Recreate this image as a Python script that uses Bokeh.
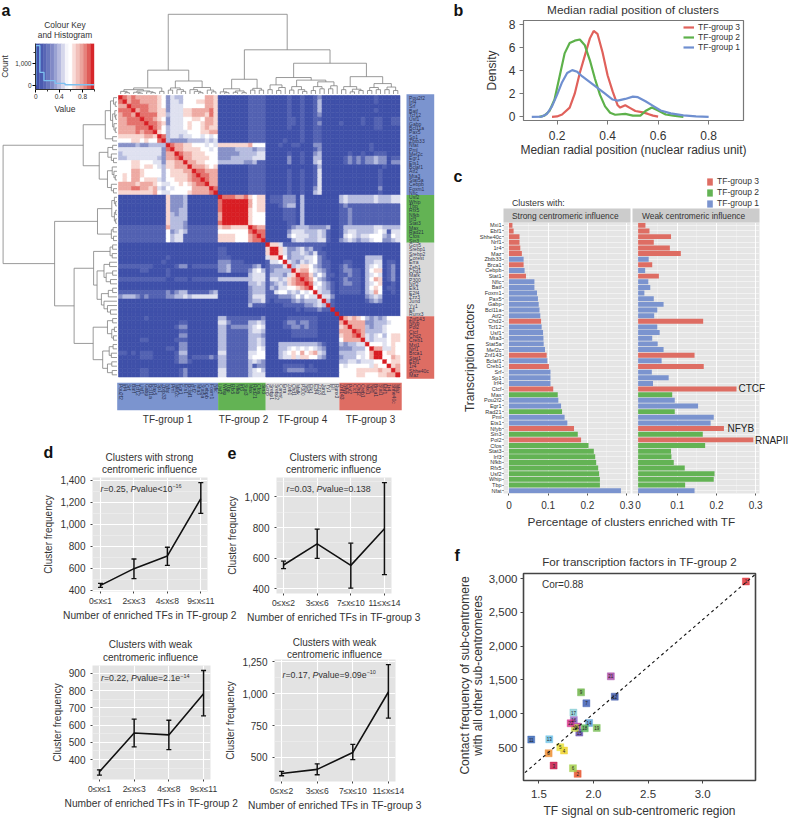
from bokeh.plotting import figure
from bokeh.models import (Range1d, FactorRange, FixedTicker, NumeralTickFormatter, Whisker, TeeHead,
                          ColumnDataSource, Column, Legend, LegendItem, Slope)
from bokeh.core.properties import value
from bokeh.embed import file_html
from bokeh.resources import INLINE
import math

FONT = "Liberation Sans"
BLUE, GREEN, GREY, RED = "#7b94cf", "#63b354", "#d9d9d9", "#de6d63"

# ---------- panel a ----------
g1 = "Pou2f2 Irf4 Srf Batf Tcf12 Usf1 Gabp Bcl11a Pax5 Sp1 Zbtb33 Nfat Pml Mef2c Egr1 Ets1 Bclaf1 Atf2 Mta3 Stat5a Cebpb Foxm1 Nfic".split()
g2 = "Usf2 Whip Tbp Rfx5 Nfkb Irf3 Stat3 Max Rad21 Cfos Sin3".split()
g4 = "Gcn5 Srebp1 Srebp2 Corest Erra Zeb1 Chd1 Mafk P300 Nrf2 Elk1 E2f4 Zzz3 Jund Yy1 Ell Runx3".split()
g3 = "Znf143 Nfyb Pol2 Ctcf Chd2 Creb1 Mxi1 Nrf1 Brca1 Stat1 Ebf1 1r4 Shhe40c Maz".split()
tf_names = g1 + g2 + g4 + g3
levels = ["#3f50a9", "#5362b2", "#8791c8", "#b6bcdf", "#dfe1f0", "#ffffff", "#f8d6d1", "#eeaaa3", "#e4716c", "#d81e24"]

# upper triangle, from the diagonal to the right, one row per TF; segments: group 1, 2, 4, 3
upper = [
 "98787777765243355555776 00000001111 00000100100120000 00000000100000",
 "9788777765244355566776 00000001111 00000100100130000 00000000100000",
 "988887765244455555776 00000001111 00000100100130000 00000000000000",
 "97887766244466777786 00000001111 00000100100130000 00000000100000",
 "9888866344466777686 00000001111 00000100100120000 00000000000000",
 "988765244455665776 00000001111 00000110100110000 00000100110011",
 "98876244456556776 00000001111 00000110100120000 10000100110011",
 "9875344456556766 00000001111 00000100100110000 00000000110000",
 "965344445556677 00000001111 00000000100110000 00000000000000",
 "98344344554545 00000001111 00000000100110000 00000000000000",
 "9322223333434 00000001111 00001000100110000 00000000000000",
 "987766555454 66666667555 00010011000220000 00000001000000",
 "97766665545 22223333233 00000000000120000 00000001000000",
 "9877666555 22222333344 00000100100230000 00100100111000",
 "977666655 22233333444 00000200100330000 01212122322011",
 "97766555 33333322311 00000200100340000 01212122322022",
 "9777656 00000001111 00000000000130000 00000000001000",
 "988777 00000001111 00000100100140000 00000000010000",
 "98877 00000001111 00000100100140000 00000000010000",
 "9877 00000001111 00000100100140000 00000000010000",
 "977 00000001111 00000100100140000 00000000010000",
 "98 00000001111 00000100100240000 00000000020000",
 "9 00000001111 00000100100340000 00000000010000",
 "98887786566 01112220300000000 34333333433344",
 "9999997566 01112220300000000 34333333433344",
 "999997566 00012330300000000 12111111111111",
 "99996566 00001110300000000 11211111111111",
 "9996555 00001110300000000 11211111111111",
 "996555 00001110300000000 11211111111111",
 "96555 00000110300000000 11211111111111",
 "9877 00000123332222300 13333333443333",
 "988 00000244433343100 13443333454144",
 "98 00000354443343100 14543445553254",
 "9 00000034433344100 23432334552234",
 "96641111111111000 00000000000000",
 "9964223423110000 00000000000000",
 "964233432411000 00000000000000",
 "95233344521000 00000033330000",
 "9432434521100 01100033440110",
 "934665321100 12100034540120",
 "96775432100 12211035660120",
 "9886353110 11211034540120",
 "987532100 12111035760120",
 "98453210 12211034560010",
 "9543210 11111035650110",
 "943310 11111034750010",
 "94420 00000023430000",
 "9310 00000012320000",
 "910 00000000000000",
 "90 00000000000000",
 "9 00000000000000",
 "97676532323555", "9777722333455", "977732334555", "98733334555", "9743453566",
 "943444566", "95554565", "9774465", "995665", "95576", "9566", "967", "97", "9",
]
row_tree = (26.3,
    (7.8, (2.7, (1.5, (0.8, 0, (0.4, 1, 2)), (1.0, (0.5, 3, (0.3, 4, 5)), (0.7, 6, (0.4, 7, 8)))), (1.0, 9, 10)),
          (4.1, (2.1, (1.0, 11, 12), (1.3, 13, (0.8, 14, 15))), (2.2, (1.1, 16, (0.7, 17, (0.4, 18, 19))), (1.3, 20, (0.8, 21, 22))))),
    (14.4, (4.5, (1.2, (0.6, 23, (0.3, 24, 25)), (0.6, (0.3, 26, 27), (0.3, 28, 29))), (1.3, (0.9, 30, 31), (0.8, 32, 33))),
           (9.9, (5.4, (1.6, (1.0, 34, 35), (1.1, 36, 37)),
                       (4.6, (3.0, (1.7, 38, 39), (2.5, (1.0, 40, 41), (1.5, 42, 43))),
                             (3.6, (2.0, (1.0, 44, 45), 46), (3.0, 47, (2.2, 48, (1.5, 49, 50)))))),
                 (5.5, (2.2, (1.0, 51, 52), (1.2, (0.6, 53, 54), (0.8, 55, 56))),
                       (3.3, (1.8, (0.9, 57, 58), (1.3, 59, 60)), (2.2, (1.2, 61, 62), (1.1, 63, 64)))))))
col_tree = (18.4,
    (5.5, (1.4, (1.0, (0.6, 0, (0.3, 1, 2)), (0.7, (0.4, 3, (0.2, 4, 5)), (0.5, 6, (0.3, 7, 8)))), (0.6, 9, 10)),
          (3.0, (1.4, (0.9, 11, 12), (1.0, 13, (0.6, 14, 15))), (1.5, (1.0, 16, (0.6, 17, (0.3, 18, 19))), (0.9, 20, (0.5, 21, 22))))),
    (10.2, (3.4, (1.2, (0.5, 23, (0.3, 24, 25)), (0.7, (0.4, 26, 27), (0.3, 28, 29))), (1.3, (0.9, 30, 31), (0.9, 32, 33))),
           (7.1, (3.8, (2.1, (1.0, 34, 35), (1.5, (0.8, 36, 37), 38)),
                       (3.2, (1.7, (0.9, 39, 40), (1.0, 41, (0.6, 42, 43))),
                             (2.8, (1.7, (0.8, 44, 45), (1.2, 46, 47)), (1.9, (1.2, 48, 49), 50)))),
                 (4.0, (1.7, (1.0, 51, 52), (1.1, (0.5, 53, 54), (0.8, 55, 56))),
                       (2.4, (1.5, (0.8, 57, 58), (1.0, 59, 60)), (1.6, (1.0, 61, 62), (0.8, 63, 64)))))))

key_colors = ["#3f50a9", "#4a5bb0", "#5866b5", "#6a78bd", "#8089c6", "#9aa2d2", "#b6bbdf", "#d5d7eb",
              "#f5f5fa", "#ffffff", "#f9dcd8", "#f2c0ba", "#eca59e", "#e6827c", "#df5c58", "#d7262a"]
key_hist_x = [0.0, 0.0, 0.07, 0.07, 0.14, 0.14, 0.33, 0.33, 0.5, 0.5, 1.0]
key_hist_y = [0, 1800, 1800, 590, 590, 210, 210, 90, 90, 25, 25]

# ---------- panel b ----------
b_red_x = [.18, .2, .22, .25, .27, .29, .31, .33, .345, .36, .38, .40, .42, .44, .45, .47, .49, .51, .54, .56, .58, .6]
b_red_y = [0, .03, .2, .8, 2, 3.8, 5.3, 6.8, 7.45, 7.2, 5.6, 3.6, 2.2, 1.0, .8, 1.0, .75, .5, .38, .25, .1, .02]
b_green_x = [.13, .15, .17, .19, .21, .23, .25, .27, .29, .31, .33, .35, .37, .39, .41, .43, .47, .50, .53, .55, .575, .6, .63, .66, .7]
b_green_y = [0, .1, .5, 1.5, 3.5, 5.5, 6.4, 6.6, 6.7, 6.2, 4.9, 3.3, 1.9, .9, .35, .18, .25, .1, .1, .5, .8, .55, .2, .1, 0]
b_blue_x = [.1, .14, .16, .18, .2, .22, .24, .26, .28, .3, .33, .36, .39, .42, .44, .47, .5, .52, .55, .58, .61, .65, .7, .75, .8]
b_blue_y = [0, .02, .25, .9, 1.9, 3, 3.8, 4.05, 3.9, 3.5, 3, 2.5, 2, 1.5, 1.4, 1.55, 1.75, 1.7, 1.35, .95, .55, .3, .13, .03, 0]

# ---------- panel c ----------
c_names = ["Mxi1", "Ebf1", "Shhe40c", "Nrf1", "1r4", "Maz", "Zbtb33", "Brca1", "Cebpb", "Stat1", "Nfic", "Batf", "Foxm1", "Pax5",
           "Gabp", "Bcl11a", "Atf2", "Chd2", "Tcf12", "Usf1", "Mta3", "Stat5a", "Mef2c", "Znf143", "Bclaf1", "Creb1", "Srf", "Sp1",
           "Irf4", "Ctcf", "Max", "Pou2f2", "Egr1", "Rad21", "Pml", "Ets1", "Nfyb", "Sin3", "Pol2", "Cfos", "Stat3", "Irf3", "Nfkb",
           "Rfx5", "Usf2", "Whip", "Tbp", "Nfat"]
c_strong = [.009, .012, .027, .027, .029, .033, .0375, .0375, .04, .0435, .065, .065, .0716, .074, .076, .078, .08, .082, .0835, .087,
            .088, .0887, .092, .0963, .098, .102, .106, .106, .106, .113, .1245, .126, .133, .1355, .142, .149, .166, .1756, .184, .203,
            .2165, .22, .2225, .2276, .23, .232, .232, .2856]
c_weak = [.0187, .029, .084, .04, .081, .109, .027, .036, .018, .053, .026, .031, .016, .04, .065, .049, .041, .166, .049, .055, .036,
          .05, .065, .144, .06, .1675, .035, .078, .038, .251, .087, .0935, .153, .0935, .193, .185, .219, .165, .294, .171, .084, .085,
          .091, .119, .195, .193, .12, .144]
c_group3 = {"Mxi1", "Ebf1", "Shhe40c", "Nrf1", "1r4", "Maz", "Brca1", "Stat1", "Chd2", "Znf143", "Creb1", "Ctcf", "Nfyb", "Pol2"}
c_group2 = {"Max", "Rad21", "Sin3", "Cfos", "Stat3", "Irf3", "Nfkb", "Rfx5", "Usf2", "Whip", "Tbp"}

# ---------- panels d, e ----------
d1_mean, d1_low, d1_high = [443, 595, 711, 1232], [424, 504, 625, 1098], [461, 683, 790, 1378]
d2_mean, d2_low, d2_high = [329, 554, 543, 782], [309, 473, 458, 653], [340, 635, 628, 917]
e1_mean, e1_low, e1_high = [555, 693, 553, 792], [531, 599, 404, 492], [580, 790, 698, 1094]
e2_mean, e2_low, e2_high = [374, 406, 539, 1014], [356, 364, 482, 809], [390, 450, 602, 1228]
d_cats = ["0≤x≤1", "2≤x≤3", "4≤x≤8", "9≤x≤11"]
e_cats = ["0≤x≤2", "3≤x≤6", "7≤x≤10", "11≤x≤14"]

# ---------- panel f ----------
f_ids = list(range(1, 23))
f_x = [3.396, 1.855, 1.635, 1.73, 1.696, 1.812, 1.935, 1.589, 1.886, 1.85, 1.43, 2.195, 1.595, 1.96, 1.87, 1.82, 1.816, 1.92, 2.03, 1.83, 2.159, 1.791]
f_y = [2956, 111, 234, 456, 505, 195, 1155, 416, 1317, 810, 618, 1253, 623, 864, 721, 908, 1017, 785, 790, 790, 1553, 859]
f_colors = ["#e0323a", "#e8532b", "#c9184a", "#f0d22c", "#e8e03a", "#a5cf4c", "#3f5fb5", "#ef8f33", "#6fb54a", "#c23b9b", "#3a66b5",
            "#3a55a8", "#6ec3e8", "#5a9fd8", "#6b4fb0", "#9a6bc8", "#8cd0d8", "#5db85a", "#7cc05a", "#c8d84a", "#a84aa8", "#d6338f"]
f_slope, f_intercept = 1389.6, -1777.5

figs = []


def panel(fx0, fx1, fy0, fy1, x_range, y_range, ml=70, mr=30, mt=6, mb=44, bg=None):
    ml, mr = max(ml, 70), max(mr, 30)
    W, H = int(round(fx1 - fx0)), int(round(fy1 - fy0))
    p = figure(width=W + ml + mr, height=H + mt + mb, x_range=x_range, y_range=y_range,
               min_border_left=ml, min_border_right=mr, min_border_top=mt, min_border_bottom=mb,
               output_backend="svg", toolbar_location=None, border_fill_color=None,
               background_fill_color=bg, outline_line_color=None)
    p.styles = {"position": "absolute", "left": f"{fx0 - ml}px", "top": f"{fy0 - mt}px",
                "max-width": "none", "max-height": "none"}
    figs.append(p)
    return p


def style_axis(ax, size, label_size=None, color="#333333", standoff=3, label_standoff=4):
    ax.major_label_text_font = FONT
    ax.major_label_text_font_size = size
    ax.major_label_text_color = color
    ax.major_label_standoff = standoff
    ax.axis_label_text_font = FONT
    ax.axis_label_text_font_style = "normal"
    ax.axis_label_text_color = color
    ax.axis_label_standoff = label_standoff
    if label_size:
        ax.axis_label_text_font_size = label_size
    ax.minor_tick_line_color = None


# ---------- draw panel a ----------
CELL = 281.5 / 65
n = len(tf_names)
mat = [[0] * n for _ in range(n)]
for i, row in enumerate(upper):
    segs = row.split()
    pos = i
    ends = [e for e in [23, 34, 51, 65] if e > i]
    for seg, e in zip(segs, ends):
        seg = (seg + "0" * 70)[:e - pos]
        for k, ch in enumerate(seg):
            mat[i][pos + k] = mat[pos + k][i] = int(ch)
        pos = e

pa = panel(0, 460, 0, 437, Range1d(-118 / CELL, (460 - 118) / CELL), Range1d((437 - 95) / CELL, -95 / CELL), mt=0, mb=0)
pa.axis.visible = False
pa.grid.visible = False
xs, ys, cs = [], [], []
for r in range(n):
    for c in range(n):
        xs.append(c + .5)
        ys.append(r + .5)
        cs.append(levels[mat[r][c]])
pa.rect(x=xs, y=ys, width=1, height=1, fill_color=cs, line_color=cs, line_width=.6)


def walk(node, segs):
    if isinstance(node, int):
        return node + .5, 0.0
    h, a, b = node
    pa_, ha = walk(a, segs)
    pb_, hb = walk(b, segs)
    segs.append(((pa_, ha), (pa_, h), (pb_, h), (pb_, hb)))
    return (pa_ + pb_) / 2, h


segs = []
walk(col_tree, segs)
pa.multi_line(xs=[[q[0] for q in s] for s in segs], ys=[[-(q[1] + .35) for q in s] for s in segs], line_color="#808080", line_width=.8)
segs = []
walk(row_tree, segs)
pa.multi_line(xs=[[-(q[1] + .35) for q in s] for s in segs], ys=[[q[0] for q in s] for s in segs], line_color="#808080", line_width=.8)

gcol = [BLUE, GREEN, GREY, RED]
pa.quad(left=[66.5] * 4, right=[72.9] * 4, top=[-.3, 23, 34, 51], bottom=[23, 34, 51, 65.4], fill_color=gcol, line_color=None)
pa.quad(left=[-.3, 23, 34, 51], right=[23, 34, 51, 65.4], top=[66.3] * 4, bottom=[72.7] * 4, fill_color=gcol, line_color=None)
pa.text(x=[67.1] * n, y=[i + .5 for i in range(n)], text=tf_names, text_font=value(FONT), text_font_size="5px",
        text_baseline="middle", text_color="#1c2440", text_alpha=.9)
pa.text(x=[i + .5 for i in range(n)], y=[66.6] * n, text=tf_names, angle=-math.pi / 2, text_font=value(FONT), text_font_size="5px",
        text_baseline="middle", text_color="#1c2440", text_alpha=.9)

# colour key
pk = panel(35, 94, 43, 89, Range1d(-.005, 1.005), Range1d(-190, 1895), mt=2, mb=30)
pk.grid.visible = False
nk = len(key_colors)
pk.quad(left=[i / nk for i in range(nk)], right=[(i + 1) / nk for i in range(nk)], bottom=[-190] * nk, top=[1895] * nk,
        fill_color=key_colors, line_color=key_colors, line_width=.3)
pk.line(key_hist_x, key_hist_y, line_color="#7cc0f0", line_width=1.3)
pk.xaxis.ticker = FixedTicker(ticks=[0, .4, .8], minor_ticks=[.2, .6, 1.0])
pk.yaxis.ticker = FixedTicker(ticks=[0, 1000], minor_ticks=[500, 1500])
pk.xaxis.major_label_overrides = {0: "0", .4: "0.4", .8: "0.8"}
pk.yaxis.formatter = NumeralTickFormatter(format="0,0")
pk.xaxis.axis_label = "Value"
pk.yaxis.axis_label = "Count"
for ax in (pk.xaxis[0], pk.yaxis[0]):
    style_axis(ax, "6.5px", "8.5px", standoff=1, label_standoff=2)
    ax.axis_line_color = "#333333"
    ax.minor_tick_line_color = "#333333"
    ax.major_tick_out, ax.major_tick_in = 3, 0
    ax.minor_tick_out, ax.minor_tick_in = 2, 0

# ---------- draw panel b ----------
pb = panel(523, 743, 20, 120, Range1d(.0672, .938), Range1d(-.32, 8.35), mt=6, mb=44)
pb.grid.visible = False
pb.outline_line_color = "#777777"
pb.outline_line_width = 1.2
lr = pb.line(b_red_x, b_red_y, line_color="#e0615b", line_width=2.2)
lg = pb.line(b_green_x, b_green_y, line_color="#5db14a", line_width=2.2)
lb = pb.line(b_blue_x, b_blue_y, line_color="#6f8fd0", line_width=2.2)
pb.xaxis.ticker = FixedTicker(ticks=[.2, .4, .6, .8])
pb.yaxis.ticker = FixedTicker(ticks=[0, 2, 4, 6, 8])
pb.xaxis.axis_label = "Median radial position (nuclear radius unit)"
pb.yaxis.axis_label = "Density"
for ax in (pb.xaxis[0], pb.yaxis[0]):
    style_axis(ax, "12px", "12px", standoff=4, label_standoff=2)
    ax.axis_line_color = None
    ax.major_tick_line_color = "#777777"
    ax.major_tick_out, ax.major_tick_in = 4, 0
pb.xaxis[0].major_label_standoff = 6
pb.xaxis[0].axis_label_standoff = 0
pb.yaxis[0].axis_label_standoff = 7
pb.yaxis[0].major_label_orientation = "horizontal"
legb = Legend(items=[LegendItem(label="TF-group 3", renderers=[lr]), LegendItem(label="TF-group 2", renderers=[lg]),
                     LegendItem(label="TF-group 1", renderers=[lb])],
              location=(160, 68), background_fill_alpha=0, border_line_alpha=0, spacing=0, padding=0, margin=0,
              glyph_width=11, glyph_height=10, label_height=10, label_standoff=4, label_text_font=FONT,
              label_text_font_size="8.5px", label_text_color="#333333")
pb.add_layout(legb)

# ---------- draw panel c ----------
c_factors = FactorRange(factors=list(reversed(c_names)), range_padding=0)
c_x_ticks = FixedTicker(ticks=[0, .1, .2, .3], minor_ticks=[.05, .15, .25])
c_colors = [RED if t in c_group3 else GREEN if t in c_group2 else BLUE for t in c_names]
ps = panel(503, 630, 222, 493, Range1d(-.0138, .31), c_factors, mt=16, mb=24, bg="#e5e5e5")
pw = panel(632, 759, 222, 493, Range1d(-.0143, .3097), c_factors, mt=16, mb=24, bg="#e5e5e5")
for p, vals in ((ps, c_strong), (pw, c_weak)):
    p.hbar(y=c_names, right=vals, left=0, height=.88, fill_color=c_colors, line_color=None)
    p.xaxis.ticker = c_x_ticks
    p.xgrid.ticker = c_x_ticks
    p.xgrid.grid_line_color = "white"
    p.xgrid.grid_line_width = .9
    p.xgrid.minor_grid_line_color = "#f2f2f2"
    p.xgrid.minor_grid_line_width = .5
    p.ygrid.grid_line_color = "white"
    p.ygrid.grid_line_width = .5
    style_axis(p.xaxis[0], "10px", standoff=3)
    p.xaxis[0].axis_line_color = None
    p.xaxis[0].major_tick_line_color = "#555555"
    p.xaxis[0].major_tick_out, p.xaxis[0].major_tick_in = 2, 0
style_axis(ps.yaxis[0], "5.5px", "12px", color="#333333", standoff=1, label_standoff=0)
ps.yaxis[0].axis_line_color = None
ps.yaxis[0].major_tick_line_color = "#444444"
ps.yaxis[0].major_tick_out, ps.yaxis[0].major_tick_in = 1, 0
ps.yaxis.axis_label = "Transcription factors"
pw.yaxis.visible = False


# ---------- draw panels d, e ----------
def line_panel(fx0, fx1, fy0, fy1, xl, yl, yticks, yminor, mean, low, high, cats, xlabel):
    p = panel(fx0, fx1, fy0, fy1, Range1d(*xl), Range1d(*yl), mt=4, mb=34, bg="#e3e3e3")
    xt = [1, 2, 3, 4]
    yt = FixedTicker(ticks=yticks, minor_ticks=yminor)
    xtick = FixedTicker(ticks=xt)
    p.xaxis.ticker = xtick
    p.xgrid.ticker = xtick
    p.yaxis.ticker = yt
    p.ygrid.ticker = yt
    p.xgrid.grid_line_color = "white"
    p.ygrid.grid_line_color = "white"
    p.xgrid.grid_line_width = 1.1
    p.ygrid.grid_line_width = 1.1
    p.ygrid.minor_grid_line_color = "#f3f3f3"
    p.ygrid.minor_grid_line_width = .5
    p.xaxis.major_label_overrides = dict(zip(xt, cats))
    p.yaxis.formatter = NumeralTickFormatter(format="0,0")
    p.xaxis.axis_label = xlabel
    p.yaxis.axis_label = "Cluster frequency"
    style_axis(p.xaxis[0], "8.5px", "10.2px", standoff=2, label_standoff=1)
    style_axis(p.yaxis[0], "10px", "10px", standoff=3, label_standoff=3)
    for ax in (p.xaxis[0], p.yaxis[0]):
        ax.axis_line_color = None
        ax.major_tick_line_color = "#444444"
        ax.major_tick_out, ax.major_tick_in = 2, 0
    src = ColumnDataSource(dict(x=xt, mean=mean, low=low, high=high))
    w = Whisker(source=src, base="x", upper="high", lower="low", line_color="#111111", line_width=1.5,
                upper_head=TeeHead(size=5, line_color="#111111", line_width=1.3),
                lower_head=TeeHead(size=5, line_color="#111111", line_width=1.3), level="glyph")
    p.add_layout(w)
    p.line("x", "mean", source=src, line_color="#111111", line_width=1.6)
    return p


line_panel(92, 207, 477, 591, (.76, 4.2), (387, 1425), [400, 600, 800, 1000, 1200, 1400], [500, 700, 900, 1100, 1300],
           d1_mean, d1_low, d1_high, d_cats, "Number of enriched TFs in TF-group 2")
line_panel(276, 391, 477, 593, (.79, 4.21), (369, 1127), [400, 600, 800, 1000], [500, 700, 900, 1100],
           e1_mean, e1_low, e1_high, e_cats, "Number of enriched TFs in TF-group 3")
line_panel(92, 210, 665, 779, (.8, 4.2), (284, 946), [400, 500, 600, 700, 800, 900], [350, 450, 550, 650, 750, 850],
           d2_mean, d2_low, d2_high, d_cats, "Number of enriched TFs in TF-group 2")
line_panel(274, 395, 659, 781, (.8, 4.2), (311, 1269), [500, 750, 1000, 1250], [625, 875, 1125],
           e2_mean, e2_low, e2_high, e_cats, "Number of enriched TFs in TF-group 3")

# ---------- draw panel f ----------
pf = panel(523, 755, 573, 780, Range1d(1.359, 3.484), Range1d(13, 3074), mt=4, mb=50)
pf.grid.visible = False
pf.outline_line_color = "#444444"
pf.outline_line_width = 1.6
pf.add_layout(Slope(gradient=f_slope, y_intercept=f_intercept, line_color="#111111", line_width=1.1, line_dash="3 3", level="overlay"))
pf.scatter(f_x, f_y, marker="square", size=7, fill_color=f_colors, line_color=f_colors, fill_alpha=.85, line_alpha=.4, line_width=1)
pf.text(f_x, f_y, text=[str(i) for i in f_ids], text_font=value(FONT), text_font_size="4.5px", text_align="center",
        text_baseline="middle", text_color="#222222")
pf.xaxis.ticker = FixedTicker(ticks=[1.5, 2, 2.5, 3])
pf.xaxis.major_label_overrides = {1.5: "1.5", 2: "2.0", 2.5: "2.5", 3: "3.0"}
pf.yaxis.ticker = FixedTicker(ticks=[500, 1000, 1500, 2000, 2500, 3000])
pf.yaxis.formatter = NumeralTickFormatter(format="0,0")
pf.xaxis.axis_label = "TF signal on sub-centromeric region"
for ax in (pf.xaxis[0], pf.yaxis[0]):
    style_axis(ax, "11.5px", "12px", standoff=3, label_standoff=3)
    ax.axis_line_color = None
    ax.major_tick_line_color = "#444444"
    ax.major_tick_out, ax.major_tick_in = 3, 0
pf.xaxis[0].major_label_standoff = 6
pf.xaxis[0].axis_label_standoff = 3

# ---------- overlay for texts placed on the page ----------
ov = panel(0, 788, 0, 818, Range1d(0, 788), Range1d(818, 0), mt=0, mb=0)
ov.axis.visible = False
ov.grid.visible = False
ov.background_fill_alpha = 0


def T(x, y, text, size, align="left", bold=False, italic=False, angle=0, color="#333333"):
    style = "bold" if bold else "italic" if italic else "normal"
    ov.text(x=[x], y=[y], text=[text], text_font=value(FONT), text_font_size=f"{size}px", text_align=align, text_baseline="middle",
            text_color=color, text_font_style=style, angle=angle)


for letter, lx, ly in (("a", 1, 10), ("b", 453, 10), ("c", 453, 176), ("d", 43, 452), ("e", 227, 452), ("f", 454, 555)):
    T(lx, ly, letter, 16, bold=True, color="#111111")

T(64.5, 24, "Colour Key", 8.4, "center")
T(64.5, 34, "and Histogram", 8.4, "center")
for t, cx in (("TF-group 1", 167), ("TF-group 2", 243), ("TF-group 4", 302), ("TF-group 3", 370)):
    T(cx, 419, t, 10, "center")
T(632.5, 9, "Median radial position of clusters", 11.8, "center")
T(511.5, 202, "Clusters with:", 8.8)
T(631, 521, "Percentage of clusters enriched with TF", 11.8, "center")
ov.quad(left=[503, 632], right=[630, 759], top=[208, 208], bottom=[222, 222], fill_color="#cccccc", line_color=None)
T(511.5, 215, "Strong centromeric influence", 8.4)
T(641.5, 215, "Weak centromeric influence", 8.4)
T(738, 388, "CTCF", 10, color="#222222")
T(727, 428, "NFYB", 10, color="#222222")
T(754.5, 440, "RNAPII", 10, color="#222222")
r3 = ov.quad(left=[706], right=[706], top=[180], bottom=[180], fill_color=RED, line_color=None)
r2 = ov.quad(left=[706], right=[706], top=[191], bottom=[191], fill_color=GREEN, line_color=None)
r1 = ov.quad(left=[706], right=[706], top=[201], bottom=[201], fill_color=BLUE, line_color=None)
legc = Legend(items=[LegendItem(label="TF-group 3", renderers=[r3]), LegendItem(label="TF-group 2", renderers=[r2]),
                     LegendItem(label="TF-group 1", renderers=[r1])],
              location=(706, 610), background_fill_alpha=0, border_line_alpha=0, spacing=1, padding=0, margin=0,
              glyph_width=7, glyph_height=9, label_height=9, label_standoff=4, label_text_font=FONT,
              label_text_font_size="8.5px", label_text_color="#333333")
ov.add_layout(legc)
for title1, title2, cx, y1, y2 in (("Clusters with strong", "centromeric influence", 149, 457, 469),
                                   ("Clusters with strong", "centromeric influence", 333, 457, 469),
                                   ("Clusters with weak", "centromeric influence", 150, 644, 656.5),
                                   ("Clusters with weak", "centromeric influence", 334, 641.5, 654)):
    T(cx, y1, title1, 10, "center")
    T(cx, y2, title2, 10, "center")

EM = {"r": .333, "=": .584, ".": .278, ",": .278, " ": .278, "P": .667, "v": .5, "a": .556, "l": .222, "u": .556, "e": .556, "<": .584}


def rich(x, y, pieces, size=8.8):
    for txt, kind in pieces:
        if kind == "sup":
            T(x, y - 2.5, txt, size * .62)
            x += .6 * len(txt) * size * .62
        else:
            T(x, y, txt, size, italic=kind == "i")
            x += sum(EM.get(ch, .556) for ch in txt) * size


rich(100, 488, [("r", "i"), ("=0.25, ", "n"), ("P", "i"), ("value<10", "n"), ("−16", "sup")])
rich(286, 488, [("r", "i"), ("=0.03, ", "n"), ("P", "i"), ("value=0.138", "n")])
rich(100.5, 677.5, [("r", "i"), ("=0.22, ", "n"), ("P", "i"), ("value=2.1e", "n"), ("−14", "sup")])
rich(282, 674, [("r", "i"), ("=0.17, ", "n"), ("P", "i"), ("value=9.09e", "n"), ("−10", "sup")])
T(639, 561, "For transcription factors in TF-group 2", 11.6, "center")
T(541.5, 584, "Cor=0.88", 10)
T(464, 675, "Contact frequency of sub-centromere", 12, "center", angle=math.pi / 2)
T(477, 675, "with all other sub-centromeres", 12, "center", angle=math.pi / 2)

root = Column(children=figs, width=788, height=818, styles={"position": "absolute", "left": "0px", "top": "0px", "overflow": "hidden"})
open("out.html", "w").write(file_html(root, INLINE))
